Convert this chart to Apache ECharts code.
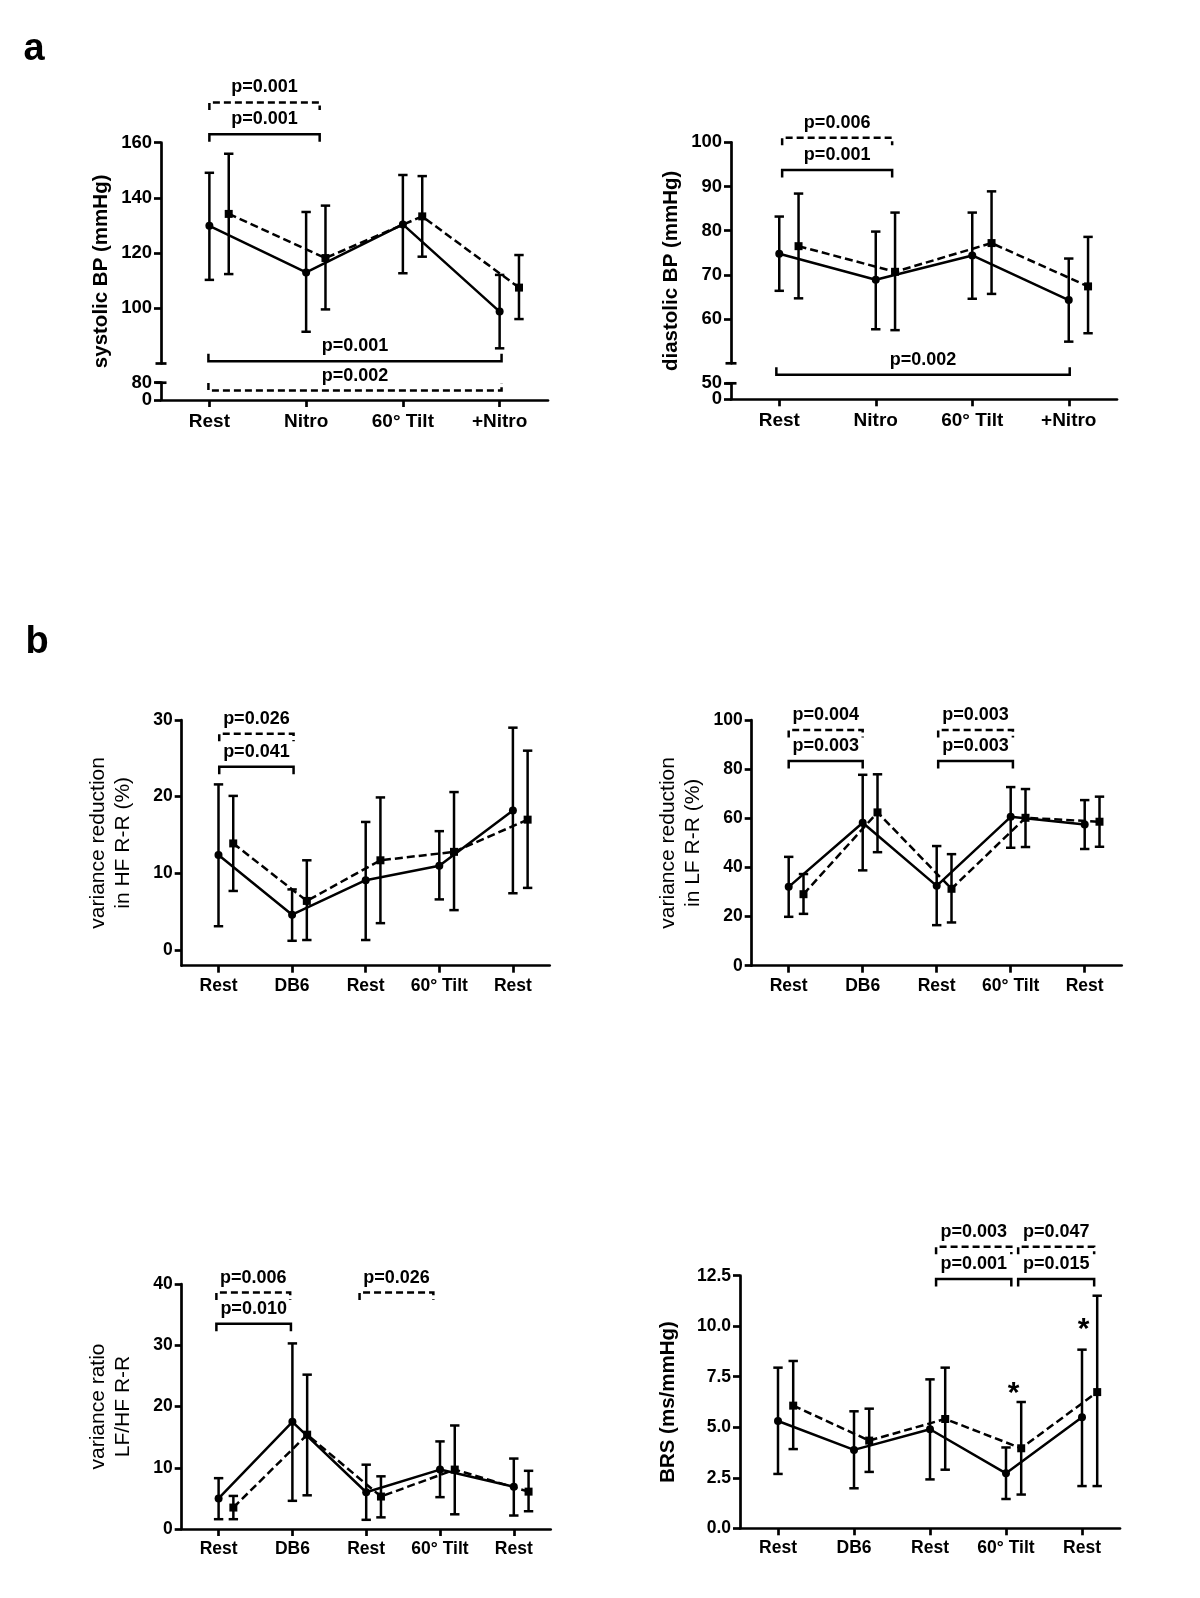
<!DOCTYPE html>
<html><head><meta charset="utf-8">
<script src="https://cdn.jsdelivr.net/npm/echarts@6/dist/echarts.min.js"></script>
<style>html,body{margin:0;padding:0;background:#fff}#c{width:1200px;height:1598px}</style>
</head><body><div id="c"></div>
<script>
// ---------------- DATA ----------------
const catA = ['Rest', 'Nitro', '60° Tilt', '+Nitro'];
const catB = ['Rest', 'DB6', 'Rest', '60° Tilt', 'Rest'];

// a: systolic BP (mmHg)
const sysSolid   = [129.9, 113.0, 130.4, 98.8];
const sysSolidLo = [110.3, 91.5, 112.7, 85.5];
const sysSolidHi = [149.1, 134.9, 148.3, 112.1];
const sysDash    = [134.2, 118.2, 133.3, 107.5];
const sysDashLo  = [112.4, 99.6, 118.7, 96.1];
const sysDashHi  = [156.0, 137.2, 147.9, 119.3];
const sysUpperTicks = [100, 120, 140, 160];
const sysLowerTicks = [0, 80];
const sysLowerLabels = [80];
const sysBaseLabel = [0];
// [from, to, y, label, style, tick direction]
const sysBrackets = [
  [0, 1.14, 174.6, 'p=0.001', 'dashed', 'down'],
  [0, 1.14, 163.1, 'p=0.001', 'solid', 'down'],
  [-0.01, 3.02, 80.8, 'p=0.001', 'solid', 'up'],
  [-0.01, 3.02, 70.2, 'p=0.002', 'dashed', 'up']
];

// a: diastolic BP (mmHg)
const diaSolid   = [74.8, 68.9, 74.4, 64.3];
const diaSolidLo = [66.4, 57.7, 64.6, 54.9];
const diaSolidHi = [83.2, 79.8, 84.1, 73.7];
const diaDash    = [76.5, 70.7, 77.2, 67.4];
const diaDashLo  = [64.7, 57.5, 65.7, 56.8];
const diaDashHi  = [88.4, 84.1, 88.9, 78.6];
const diaUpperTicks = [60, 70, 80, 90, 100];
const diaLowerTicks = [0, 50];
const diaLowerLabels = [50];
const diaBaseLabel = [0];
const diaBrackets = [
  [0.03, 1.17, 101.05, 'p=0.006', 'dashed', 'down'],
  [0.03, 1.17, 93.75, 'p=0.001', 'solid', 'down'],
  [-0.03, 3.01, 47.4, 'p=0.002', 'solid', 'up']
];

// b: variance reduction in HF R-R (%)
const hfSolid   = [12.4, 4.6, 9.1, 11.0, 18.2];
const hfSolidLo = [3.1, 1.2, 1.3, 6.6, 7.4];
const hfSolidHi = [21.6, 7.9, 16.7, 15.5, 29.0];
const hfDash    = [13.9, 6.4, 11.7, 12.8, 17.0];
const hfDashLo  = [7.7, 1.3, 3.5, 5.2, 8.1];
const hfDashHi  = [20.1, 11.7, 19.9, 20.6, 26.0];
const hfTicks = [0, 10, 20, 30];
const hfBrackets = [
  [0.01, 1.02, 28.2, 'p=0.026', 'dashed', 'down'],
  [0.01, 1.02, 23.9, 'p=0.041', 'solid', 'down']
];

// b: variance reduction in LF R-R (%)
const lfSolid   = [32.1, 58.2, 32.5, 60.6, 57.5];
const lfSolidLo = [19.9, 38.8, 16.5, 48.0, 47.5];
const lfSolidHi = [44.3, 77.7, 48.7, 72.7, 67.4];
const lfDash    = [29.1, 62.4, 31.3, 60.2, 58.6];
const lfDashLo  = [21.1, 46.2, 17.6, 48.3, 48.4];
const lfDashHi  = [37.3, 77.9, 45.4, 71.9, 68.8];
const lfTicks = [0, 20, 40, 60, 80, 100];
const lfBrackets = [
  [0, 1, 95.9, 'p=0.004', 'dashed', 'down'],
  [0, 1, 83.3, 'p=0.003', 'solid', 'down'],
  [2.02, 3.03, 95.9, 'p=0.003', 'dashed', 'down'],
  [2.02, 3.03, 83.3, 'p=0.003', 'solid', 'down']
];

// b: variance ratio LF/HF R-R
const ratioSolid   = [5.0, 17.5, 6.0, 9.7, 6.9];
const ratioSolidLo = [1.6, 4.6, 1.5, 5.2, 2.2];
const ratioSolidHi = [8.3, 30.3, 10.5, 14.3, 11.5];
const ratioDash    = [3.5, 15.4, 5.3, 9.7, 6.1];
const ratioDashLo  = [1.6, 5.5, 1.9, 2.4, 2.9];
const ratioDashHi  = [5.4, 25.2, 8.6, 16.9, 9.5];
const ratioTicks = [0, 10, 20, 30, 40];
const ratioBrackets = [
  [-0.03, 0.97, 38.6, 'p=0.006', 'dashed', 'down'],
  [-0.03, 0.98, 33.5, 'p=0.010', 'solid', 'down'],
  [1.91, 2.91, 38.6, 'p=0.026', 'dashed', 'down']
];

// b: BRS (ms/mmHg)
const brsSolid   = [5.31, 3.88, 4.90, 2.72, 5.49];
const brsSolidLo = [2.69, 1.98, 2.42, 1.45, 2.09];
const brsSolidHi = [7.95, 5.79, 7.37, 4.00, 8.84];
const brsDash    = [6.07, 4.34, 5.41, 3.96, 6.74];
const brsDashLo  = [3.92, 2.79, 2.90, 1.67, 2.09];
const brsDashHi  = [8.28, 5.92, 7.95, 6.25, 11.51];
const brsTicks = [0, 2.5, 5, 7.5, 10, 12.5];
const brsBrackets = [
  [2.08, 3.07, 13.93, 'p=0.003', 'dashed', 'down'],
  [2.08, 3.07, 12.34, 'p=0.001', 'solid', 'down'],
  [3.16, 4.16, 13.93, 'p=0.047', 'dashed', 'down'],
  [3.16, 4.16, 12.34, 'p=0.015', 'solid', 'down']
];
const brsStars = [[3.1, 7.0], [4.02, 10.17]];

// ---------------- BUILD ----------------
const FONT = '"Liberation Sans", Arial, Helvetica, sans-serif';
const AXW = 2.7, LW = 2.5, OFFSET = 0.2, PFS = 18;
const grid = [], xAxis = [], yAxis = [], series = [];

function addGrid(l, t, w, h) {
  grid.push({left: l, top: t, width: w, height: h, containLabel: false, outerBoundsMode: 'none'});
  return grid.length - 1;
}
function addValueX(g, n) {
  xAxis.push({type: 'value', gridIndex: g, show: false, min: -0.5, max: n - 0.5, position: 'top'});
  return xAxis.length - 1;
}
function addCatX(g, cats, fs, margin) {
  xAxis.push({
    type: 'category', gridIndex: g, data: cats, position: 'bottom', boundaryGap: true,
    axisLine: {show: true, onZero: false, lineStyle: {color: '#000', width: AXW}},
    axisTick: {show: true, alignWithLabel: true, interval: 0, length: 7, lineStyle: {color: '#000', width: AXW}},
    axisLabel: {show: true, interval: 0, color: '#000', fontFamily: FONT, fontWeight: 'bold', fontSize: fs, margin: margin},
    splitLine: {show: false}
  });
  return xAxis.length - 1;
}
function addY(g, o) {
  yAxis.push({
    type: 'value', gridIndex: g, min: o.min, max: o.max, position: 'left',
    axisLine: {show: true, onZero: false, symbol: o.caps || ['none', 'none'], symbolSize: [11, AXW],
      lineStyle: {color: '#000', width: AXW}},
    axisTick: {show: true, length: 7, customValues: o.ticks, lineStyle: {color: '#000', width: AXW}},
    axisLabel: {show: true, customValues: o.labels, showMinLabel: true, showMaxLabel: true, hideOverlap: false,
      formatter: o.fmt || (v => String(v)), color: '#000', fontFamily: FONT, fontWeight: 'bold',
      fontSize: o.fs, margin: o.margin || 9},
    splitLine: {show: false},
    name: o.name || '', nameLocation: 'middle', nameGap: o.nameGap || 50, nameRotate: 90,
    nameTextStyle: {color: '#000', fontFamily: FONT, fontWeight: o.nameBold ? 'bold' : 'normal',
      fontSize: o.nameSize || 21, lineHeight: 25}
  });
  return yAxis.length - 1;
}
// full-height axis of a broken panel: carries the title and the base label
function addTitleAxis(g, name, gap, size, baseLabel, fs) {
  xAxis.push({type: 'value', gridIndex: g, show: false, min: 0, max: 1});
  yAxis.push({
    type: 'value', gridIndex: g, min: 0, max: 1, show: true, position: 'left',
    axisLine: {show: false}, axisTick: {show: false}, splitLine: {show: false},
    axisLabel: {show: true, customValues: baseLabel, showMinLabel: true, color: '#000', fontFamily: FONT,
      fontWeight: 'bold', fontSize: fs, margin: 9},
    name: name, nameLocation: 'middle', nameGap: gap, nameRotate: 90,
    nameTextStyle: {color: '#000', fontFamily: FONT, fontWeight: 'bold', fontSize: size}
  });
}

function errRender(params, api) {
  const x = api.value(0);
  const a = api.coord([x, api.value(1)]), b = api.coord([x, api.value(2)]);
  const w = 4.7, st = {stroke: '#000', lineWidth: LW};
  return {type: 'group', children: [
    {type: 'line', shape: {x1: a[0], y1: a[1], x2: b[0], y2: b[1]}, style: st},
    {type: 'line', shape: {x1: a[0] - w, y1: a[1], x2: a[0] + w, y2: a[1]}, style: st},
    {type: 'line', shape: {x1: b[0] - w, y1: b[1], x2: b[0] + w, y2: b[1]}, style: st}
  ]};
}

function addGroup(xi, yi, mean, lo, hi, dashed) {
  const off = dashed ? OFFSET : 0;
  series.push({
    type: 'custom', xAxisIndex: xi, yAxisIndex: yi, silent: true, z: 2, clip: false,
    data: mean.map((v, i) => [i + off, lo[i], hi[i]]), encode: {x: 0, y: [1, 2]},
    renderItem: errRender
  });
  series.push({
    type: 'line', xAxisIndex: xi, yAxisIndex: yi, silent: true, z: 3, clip: false,
    data: mean.map((v, i) => [i + off, v]),
    symbol: dashed ? 'rect' : 'circle', symbolSize: 8, showSymbol: true, showAllSymbol: true,
    itemStyle: {color: '#000', borderWidth: 0},
    lineStyle: {color: '#000', width: LW, type: dashed ? [8, 4] : 'solid'}
  });
}

function addBrackets(xi, yi, list, fs) {
  series.push({
    type: 'custom', xAxisIndex: xi, yAxisIndex: yi, silent: true, z: 4, clip: false,
    data: list.map(b => [b[0], b[1], b[2]]), encode: {x: [0, 1], y: 2},
    renderItem: (params, api) => {
      const b = list[params.dataIndex];
      const p1 = api.coord([b[0], b[2]]), p2 = api.coord([b[1], b[2]]);
      const t = b[5] === 'up' ? -7.5 : 7.5;
      return {type: 'group', children: [
        {type: 'polyline',
         shape: {points: [[p1[0], p1[1] + t], [p1[0], p1[1]], [p2[0], p2[1]], [p2[0], p2[1] + t]]},
         style: {stroke: '#000', fill: 'none', lineWidth: LW, lineDash: b[4] === 'dashed' ? [7, 4] : null}},
        {type: 'text', x: (p1[0] + p2[0]) / 2, y: p1[1] - 15,
         style: {text: b[3], fill: '#000', fontFamily: FONT, fontWeight: 'bold', fontSize: fs,
                 align: 'center', verticalAlign: 'middle'}}
      ]};
    }
  });
}

function addStars(xi, yi, list) {
  series.push({
    type: 'custom', xAxisIndex: xi, yAxisIndex: yi, silent: true, z: 4, clip: false,
    data: list, encode: {x: 0, y: 1},
    renderItem: (params, api) => {
      const p = api.coord([api.value(0), api.value(1)]);
      return {type: 'text', x: p[0], y: p[1] + 7,
        style: {text: '*', fill: '#000', fontFamily: FONT, fontWeight: 'bold', fontSize: 30,
                align: 'center', verticalAlign: 'middle'}};
    }
  });
}

// ---- Panel a (broken axes) ----
function panelA(l, w, topU, botU, topL, botL, up, low, cats, d, brackets, name) {
  const gU = addGrid(l, topU, w, botU - topU);
  const xvU = addValueX(gU, cats.length);
  const yU = addY(gU, {min: up.min, max: up.max, ticks: up.ticks, labels: up.ticks, fs: 18.5, margin: 9,
    caps: ['rect', 'none']});
  const gL = addGrid(l, topL, w, botL - topL);
  addCatX(gL, cats, 19, 12);
  addValueX(gL, cats.length);
  addY(gL, {min: low.min, max: low.max, ticks: low.ticks, labels: low.labels, fs: 18.5, margin: 9,
    caps: ['none', 'rect']});
  const gT = addGrid(l, topU, w, botL - topU);
  addTitleAxis(gT, name, 49, 20.5, low.base, 18.5);
  addGroup(xvU, yU, d[0], d[1], d[2], false);
  addGroup(xvU, yU, d[3], d[4], d[5], true);
  addBrackets(xvU, yU, brackets, PFS);
}

panelA(161, 387, 142.7, 363.5, 382.7, 400,
  {min: 80, max: 160, ticks: sysUpperTicks},
  {min: 0, max: 80, ticks: sysLowerTicks, labels: sysLowerLabels, base: sysBaseLabel}, catA,
  [sysSolid, sysSolidLo, sysSolidHi, sysDash, sysDashLo, sysDashHi], sysBrackets, 'systolic BP (mmHg)');

panelA(731, 386, 142.3, 363.3, 383.3, 399.3,
  {min: 50, max: 100, ticks: diaUpperTicks},
  {min: 0, max: 50, ticks: diaLowerTicks, labels: diaLowerLabels, base: diaBaseLabel}, catA,
  [diaSolid, diaSolidLo, diaSolidHi, diaDash, diaDashLo, diaDashHi], diaBrackets, 'diastolic BP (mmHg)');

// ---- Panel b ----
function panelB(l, t, w, h, y, cats, d, brackets, stars) {
  const g = addGrid(l, t, w, h);
  addCatX(g, cats, 17.5, 11);
  const xv = addValueX(g, cats.length);
  const yi = addY(g, y);
  addGroup(xv, yi, d[0], d[1], d[2], false);
  addGroup(xv, yi, d[3], d[4], d[5], true);
  addBrackets(xv, yi, brackets, PFS);
  if (stars) addStars(xv, yi, stars);
}

panelB(181.7, 720, 368, 245.7,
  {min: -2.05, max: 30, ticks: hfTicks, labels: hfTicks, fs: 17.5,
   name: 'variance reduction\nin HF R-R (%)', nameGap: 46, nameSize: 21}, catB,
  [hfSolid, hfSolidLo, hfSolidHi, hfDash, hfDashLo, hfDashHi], hfBrackets);

panelB(751.7, 720, 370, 245.7,
  {min: 0, max: 100, ticks: lfTicks, labels: lfTicks, fs: 17.5,
   name: 'variance reduction\nin LF R-R (%)', nameGap: 46, nameSize: 21}, catB,
  [lfSolid, lfSolidLo, lfSolidHi, lfDash, lfDashLo, lfDashHi], lfBrackets);

panelB(181.7, 1284, 369, 245,
  {min: 0, max: 40, ticks: ratioTicks, labels: ratioTicks, fs: 17.5,
   name: 'variance ratio\nLF/HF R-R', nameGap: 46, nameSize: 21}, catB,
  [ratioSolid, ratioSolidLo, ratioSolidHi, ratioDash, ratioDashLo, ratioDashHi], ratioBrackets);

panelB(740, 1275.7, 380, 252.6,
  {min: 0, max: 12.5, ticks: brsTicks, labels: brsTicks, fs: 17.5, fmt: v => Number(v).toFixed(1),
   name: 'BRS (ms/mmHg)', nameGap: 59, nameSize: 20.5, nameBold: true}, catB,
  [brsSolid, brsSolidLo, brsSolidHi, brsDash, brsDashLo, brsDashHi], brsBrackets, brsStars);

const chart = echarts.init(document.getElementById('c'), null, {renderer: 'canvas'});
chart.setOption({
  backgroundColor: '#fff',
  animation: false,
  grid, xAxis, yAxis, series,
  graphic: [
    {type: 'text', x: 34, y: 50, style: {text: 'a', fill: '#000', fontFamily: FONT, fontWeight: 'bold', fontSize: 38, align: 'center', verticalAlign: 'middle'}},
    {type: 'text', x: 37, y: 643, style: {text: 'b', fill: '#000', fontFamily: FONT, fontWeight: 'bold', fontSize: 38, align: 'center', verticalAlign: 'middle'}}
  ]
});
</script></body></html>
